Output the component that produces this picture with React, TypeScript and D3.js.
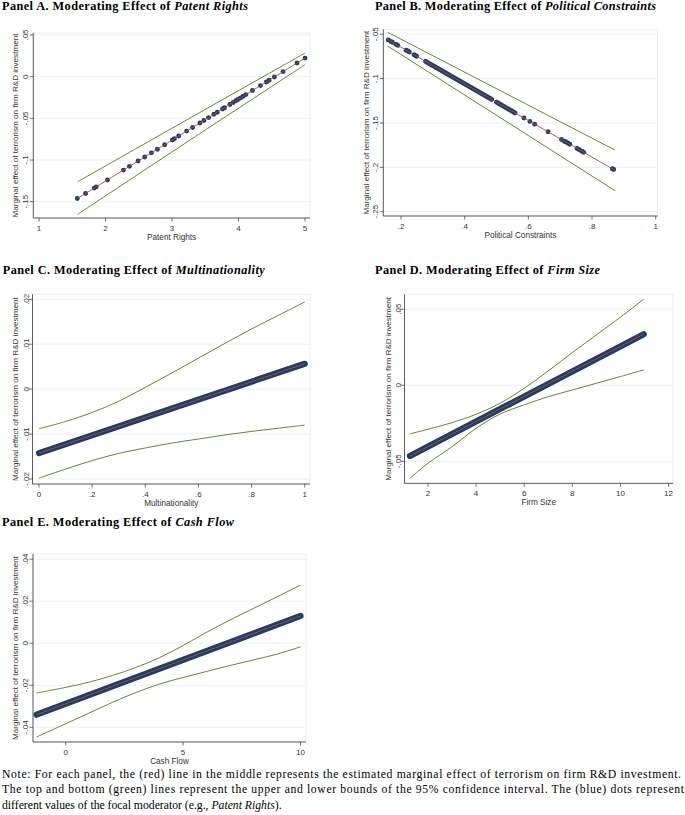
import * as d3 from 'd3'

type Pt = [number, number]

// Panel A: Patent Rights
const patentXTicks = [1, 2, 3, 4, 5]
const patentYTicks = [0.05, 0, -0.05, -0.1, -0.15]
const patentDots: Pt[] = [
  [1.576, -0.1462], [1.7, -0.1401], [1.83, -0.1337], [1.86, -0.1322], [2.03, -0.1239],
  [2.27, -0.1121], [2.36, -0.1076], [2.49, -0.1012], [2.59, -0.0963], [2.69, -0.0914],
  [2.78, -0.087], [2.89, -0.0816], [3.005, -0.0759], [3.035, -0.0744], [3.1, -0.0712],
  [3.22, -0.0653], [3.31, -0.0609], [3.42, -0.0555], [3.48, -0.0525], [3.55, -0.0491],
  [3.63, -0.0451], [3.68, -0.0427], [3.76, -0.0387], [3.79, -0.0373], [3.87, -0.0333],
  [3.92, -0.0309], [3.96, -0.0289], [3.99, -0.0274], [4.03, -0.0255], [4.07, -0.0235],
  [4.11, -0.0215], [4.21, -0.0166], [4.33, -0.0107], [4.42, -0.0063], [4.46, -0.0043],
  [4.54, -0.0004], [4.67, 0.006], [4.88, 0.0164], [5.0, 0.0223],
]
const patentLine: Pt[] = [[1.576, -0.1462], [5.0, 0.0223]]
const patentUpper: Pt[] = [[1.58, -0.1261], [3.3, -0.0483], [5.0, 0.0283]]
const patentLower: Pt[] = [[1.58, -0.1652], [3.3, -0.0745], [5.0, 0.0144]]

// Panel B: Political Constraints
const politicalXTicks = [0.2, 0.4, 0.6, 0.8, 1]
const politicalYTicks = [-0.05, -0.1, -0.15, -0.2, -0.25]
const politicalDots: Pt[] = [
  [0.16, -0.0563], [0.168, -0.058], [0.173, -0.059], [0.184, -0.0613], [0.19, -0.0625],
  [0.216, -0.0679], [0.221, -0.0689], [0.226, -0.07], [0.241, -0.0731], [0.246, -0.0741],
  [0.249, -0.0747], [0.586, -0.1443], [0.605, -0.1482], [0.62, -0.1513], [0.662, -0.1599],
  [0.704, -0.1686], [0.713, -0.1705], [0.718, -0.1715], [0.725, -0.1729], [0.73, -0.174],
  [0.753, -0.1787], [0.76, -0.1802], [0.768, -0.1818], [0.774, -0.1831], [0.864, -0.2016],
  [0.868, -0.2025],
]
// stretches where the dots overlap into a solid chain
const politicalRuns: Pt[][] = [
  [[0.277, -0.0805], [0.485, -0.1234]],
  [[0.5, -0.1265], [0.558, -0.1385]],
]
const politicalLine: Pt[] = [[0.155, -0.0553], [0.872, -0.2033]]
const politicalUpper: Pt[] = [[0.158, -0.0477], [0.872, -0.1805]]
const politicalLower: Pt[] = [[0.158, -0.0632], [0.872, -0.2263]]

// Panel C: Multinationality
const multiXTicks = [0, 0.2, 0.4, 0.6, 0.8, 1]
const multiYTicks = [0.02, 0.01, 0, -0.01, -0.02]
const multiLine: Pt[] = [[0, -0.01424], [1, 0.00564]]
const multiUpper: Pt[] = [
  [0, -0.0088], [0.1, -0.0072], [0.2, -0.0052], [0.3, -0.0027], [0.4, 0.0004], [0.5, 0.0036],
  [0.6, 0.0069], [0.7, 0.0102], [0.8, 0.0134], [0.9, 0.0164], [1, 0.0194],
]
const multiLower: Pt[] = [
  [0, -0.0198], [0.1, -0.0178], [0.2, -0.0159], [0.3, -0.0143], [0.4, -0.0131], [0.5, -0.012],
  [0.6, -0.0111], [0.7, -0.0102], [0.8, -0.0094], [0.9, -0.0087], [1, -0.008],
]

// Panel D: Firm Size
const sizeXTicks = [2, 4, 6, 8, 10, 12]
const sizeYTicks = [0.05, 0, -0.05]
const sizeLine: Pt[] = [[1.25, -0.0465], [10.97, 0.0336]]
const sizeUpper: Pt[] = [
  [1.25, -0.032], [2, -0.0289], [3, -0.0246], [4, -0.0191], [5, -0.0118], [6, -0.002],
  [7, 0.0094], [8, 0.0215], [9, 0.0331], [10, 0.0447], [10.97, 0.0566],
]
const sizeLower: Pt[] = [
  [1.25, -0.0612], [2, -0.0513], [3, -0.0404], [4, -0.0283], [5, -0.0189], [6, -0.0129],
  [7, -0.0075], [8, -0.0031], [9, 0.0013], [10, 0.0057], [10.97, 0.0101],
]

// Panel E: Cash Flow
const cashXTicks = [0, 5, 10]
const cashYTicks = [0.04, 0.02, 0, -0.02, -0.04]
const cashLine: Pt[] = [[-1.24, -0.034], [10, 0.013]]
const cashUpper: Pt[] = [
  [-1.24, -0.0237], [0, -0.021], [1, -0.0185], [2, -0.0153], [3, -0.0115], [4, -0.0068],
  [5, -0.0011], [6, 0.0052], [7, 0.0111], [8, 0.0166], [9, 0.0221], [10, 0.0277],
]
const cashLower: Pt[] = [
  [-1.24, -0.0446], [0, -0.0383], [1, -0.0332], [2, -0.0281], [3, -0.0234], [4, -0.0194],
  [5, -0.0163], [6, -0.0134], [7, -0.0106], [8, -0.0079], [9, -0.0052], [10, -0.0017],
]

const NAVY = '#1d3f66'
const RED = '#b8454b'
const GREEN = '#64862f'
const GRID = '#e6eef0'
const AXIS = '#4a4a4a'
const SANS = '"Liberation Sans", Arial, sans-serif'
const SERIF = '"Liberation Serif", "Times New Roman", serif'
const Y_TITLE = 'Marginal effect of terrorism on firm R&D investment'

// Stata-style tick labels: .05, -.1, 0
const fmt = (d: number) => (d === 0 ? '0' : String(+d.toFixed(4)).replace('0.', '.'))

const panels = [
  {
    title: 'Panel A. Moderating Effect of ', focus: 'Patent Rights', xLabel: 'Patent Rights',
    titleX: 2, titleY: 10, titleLen: 246,
    xTicks: patentXTicks, yTicks: patentYTicks,
    xDom: [1, 5], xRange: [39, 305], yDom: [0.05, -0.15], yRange: [35, 201.7],
    frame: { l: 33.3, r: 310, t: 33, b: 218 }, yTitleX: 15, yTickX: 25.5,
    dots: patentDots, runs: [], band: null, line: patentLine, upper: patentUpper, lower: patentLower,
  },
  {
    title: 'Panel B. Moderating Effect of ', focus: 'Political Constraints', xLabel: 'Political Constraints',
    titleX: 375, titleY: 9.5, titleLen: 281,
    xTicks: politicalXTicks, yTicks: politicalYTicks,
    xDom: [0.2, 1], xRange: [401, 655.7], yDom: [-0.05, -0.25], yRange: [34.3, 211.7],
    frame: { l: 383.3, r: 657.5, t: 29.3, b: 216 }, yTitleX: 366, yTickX: 375.5,
    dots: politicalDots, runs: politicalRuns, band: null, line: politicalLine, upper: politicalUpper, lower: politicalLower,
  },
  {
    title: 'Panel C. Moderating Effect of ', focus: 'Multinationality', xLabel: 'Multinationality',
    titleX: 2.7, titleY: 273.5, titleLen: 262,
    xTicks: multiXTicks, yTicks: multiYTicks,
    xDom: [0, 1], xRange: [39, 304.7], yDom: [0.02, -0.02], yRange: [299.3, 479],
    frame: { l: 32.5, r: 310, t: 294.3, b: 484 }, yTitleX: 15, yTickX: 26.5,
    dots: [], runs: [], band: multiLine, line: multiLine, upper: multiUpper, lower: multiLower,
  },
  {
    title: 'Panel D. Moderating Effect of ', focus: 'Firm Size', xLabel: 'Firm Size',
    titleX: 375, titleY: 273.5, titleLen: 225,
    xTicks: sizeXTicks, yTicks: sizeYTicks,
    xDom: [2, 12], xRange: [428, 668.5], yDom: [0.05, -0.05], yRange: [309.2, 461.3],
    frame: { l: 404.5, r: 673, t: 294.3, b: 483.3 }, yTitleX: 388.5, yTickX: 398.5,
    dots: [], runs: [], band: sizeLine, line: sizeLine, upper: sizeUpper, lower: sizeLower,
  },
  {
    title: 'Panel E. Moderating Effect of ', focus: 'Cash Flow', xLabel: 'Cash Flow',
    titleX: 2, titleY: 526, titleLen: 232,
    xTicks: cashXTicks, yTicks: cashYTicks,
    xDom: [0, 10], xRange: [65.7, 300.5], yDom: [0.04, -0.04], yRange: [559.2, 727.3],
    frame: { l: 33, r: 306, t: 554, b: 742 }, yTitleX: 15, yTickX: 25,
    dots: [], runs: [], band: cashLine, line: cashLine, upper: cashUpper, lower: cashLower,
  },
]

function Panel({ p }: { p: any }) {
  const x = d3.scaleLinear().domain(p.xDom).range(p.xRange)
  const y = d3.scaleLinear().domain(p.yDom).range(p.yRange)
  const straight = d3.line<Pt>().x(d => x(d[0])).y(d => y(d[1]))
  const smooth = d3.line<Pt>().x(d => x(d[0])).y(d => y(d[1])).curve(d3.curveCatmullRom.alpha(0.5))
  const f = p.frame
  const midY = (f.t + f.b) / 2
  const midX = (f.l + f.r) / 2

  return (
    <g>
      <text x={p.titleX} y={p.titleY} fontFamily={SERIF} fontSize={12.3} fontWeight="bold"
        textLength={p.titleLen} lengthAdjust="spacing" fill="#000">
        {p.title}<tspan fontStyle="italic">{p.focus}</tspan>
      </text>

      <rect x={f.l} y={f.t} width={f.r - f.l} height={f.b - f.t} fill="#fff" stroke={GRID} strokeWidth={0.8} />
      {p.yTicks.map((t: number) => (
        <line key={t} x1={f.l} x2={f.r} y1={y(t)} y2={y(t)} stroke={GRID} strokeWidth={0.8} />
      ))}

      <path d={smooth(p.upper) || ''} fill="none" stroke={GREEN} strokeWidth={1} />
      <path d={smooth(p.lower) || ''} fill="none" stroke={GREEN} strokeWidth={1} />

      {p.band && (
        <path d={straight(p.band) || ''} fill="none" stroke={NAVY} strokeWidth={6.2} strokeLinecap="round" />
      )}
      {p.runs.map((r: Pt[], i: number) => (
        <path key={i} d={straight(r) || ''} fill="none" stroke={NAVY} strokeWidth={4.8} strokeLinecap="round" />
      ))}
      {p.dots.map((d: Pt, i: number) => (
        <circle key={i} cx={x(d[0])} cy={y(d[1])} r={2.45} fill={NAVY} />
      ))}

      <path d={straight(p.line) || ''} fill="none" stroke={RED} strokeWidth={0.9} />

      {/* axes */}
      <line x1={f.l} x2={f.l} y1={f.t} y2={f.b} stroke={AXIS} strokeWidth={0.9} />
      <line x1={f.l} x2={f.r} y1={f.b} y2={f.b} stroke={AXIS} strokeWidth={0.9} />
      {p.yTicks.map((t: number) => (
        <g key={t}>
          <line x1={f.l - 3.5} x2={f.l} y1={y(t)} y2={y(t)} stroke={AXIS} strokeWidth={0.8} />
          <text x={p.yTickX} y={y(t)} dy="0.35em" transform={`rotate(-90,${p.yTickX},${y(t)})`}
            textAnchor="middle" fontFamily={SANS} fontSize={8} fill="#333">{fmt(t)}</text>
        </g>
      ))}
      {p.xTicks.map((t: number) => (
        <g key={t}>
          <line x1={x(t)} x2={x(t)} y1={f.b} y2={f.b + 3.5} stroke={AXIS} strokeWidth={0.8} />
          <text x={x(t)} y={f.b + 13} textAnchor="middle" fontFamily={SANS} fontSize={8} fill="#333">{fmt(t)}</text>
        </g>
      ))}
      <text x={midX} y={f.b + 21.5} textAnchor="middle" fontFamily={SANS} fontSize={8.2} fill="#333">{p.xLabel}</text>
      <text x={p.yTitleX} y={midY} dy="0.35em" transform={`rotate(-90,${p.yTitleX},${midY})`}
        textAnchor="middle" fontFamily={SANS} fontSize={8.1} fill="#333">{Y_TITLE}</text>
    </g>
  )
}

export default function App() {
  return (
    <div style={{ position: 'absolute', left: 0, top: 0, background: '#fff' }}>
      <svg width={685} height={815} style={{ display: 'block' }}>
        <rect width={685} height={815} fill="#fff" />
        {panels.map((p, i) => <Panel key={i} p={p} />)}
        <g fontFamily={SERIF} fontSize={11.7} fill="#000">
          <text x={2} y={777.7} textLength={679} lengthAdjust="spacing">
            Note: For each panel, the (red) line in the middle represents the estimated marginal effect of terrorism on firm R&amp;D investment.
          </text>
          <text x={2} y={793.4} textLength={682} lengthAdjust="spacing">
            The top and bottom (green) lines represent the upper and lower bounds of the 95% confidence interval. The (blue) dots represent
          </text>
          <text x={2} y={809.2}>
            different values of the focal moderator (e.g., <tspan fontStyle="italic">Patent Rights</tspan>).
          </text>
        </g>
      </svg>
    </div>
  )
}
